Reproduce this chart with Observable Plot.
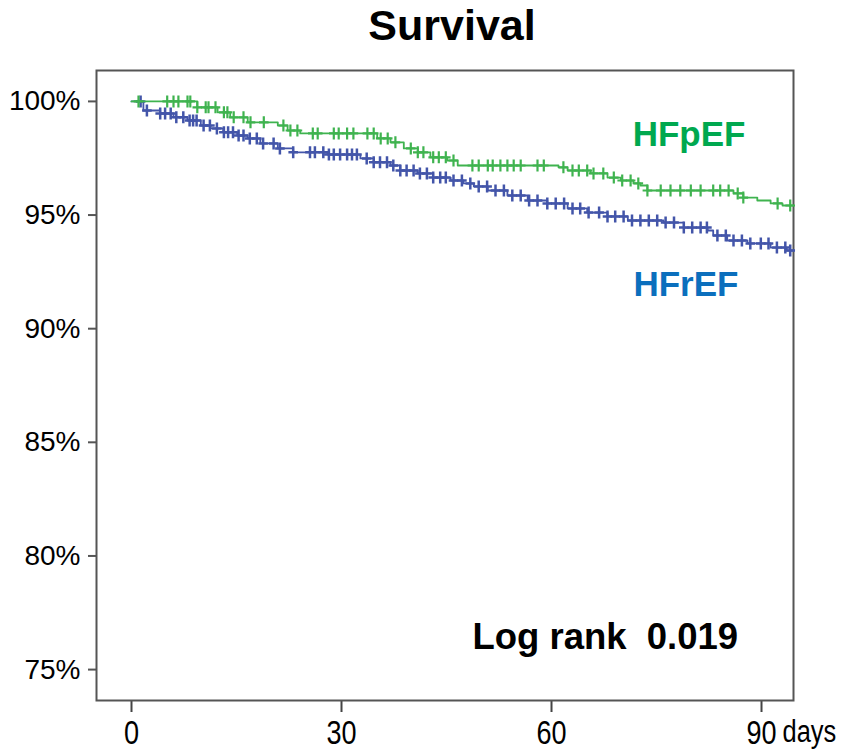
<!DOCTYPE html>
<html>
<head>
<meta charset="utf-8">
<script src="https://cdn.jsdelivr.net/npm/d3@7"></script>
<script src="https://cdn.jsdelivr.net/npm/@observablehq/plot@0.6"></script>
<style>
  body { margin: 0; background: #fff; }
  svg { display: block; }
</style>
</head>
<body>
<div id="chart"></div>
<script>
// ---- data ----
const title = "Survival";
const seriesNames = ["HFpEF", "HFrEF"];
const logRankText = "Log rank\u00a0 0.019";
const xUnit = "days";
const followUpEnd = 94.5;

const hfpefTimes = [0, 9.4, 12.3, 14.1, 16.6, 20.9, 22.3, 24.1, 35.1, 37.0, 38.9, 40.9, 42.7, 45.1, 46.6, 61.0, 62.3, 65.6, 68.0, 69.9, 71.7, 72.7, 73.7, 86.0, 87.4, 89.4, 91.3, 93.0];
const hfpefSurv  = [100, 99.74, 99.52, 99.30, 99.08, 98.94, 98.72, 98.59, 98.37, 98.20, 97.93, 97.76, 97.54, 97.40, 97.18, 97.10, 96.96, 96.83, 96.65, 96.52, 96.39, 96.30, 96.08, 95.95, 95.77, 95.64, 95.51, 95.42];
const hfpefCensor = [1.0, 5.1, 6.0, 6.7, 8.0, 8.4, 9.4, 10.6, 11.0, 12.0, 13.2, 13.7, 14.6, 16.0, 17.0, 18.9, 21.7, 22.7, 23.7, 25.9, 26.6, 28.9, 29.6, 30.8, 31.7, 33.7, 34.6, 35.6, 36.6, 37.7, 39.9, 40.9, 41.7, 43.1, 43.9, 44.9, 46.0, 48.7, 49.6, 50.9, 51.6, 52.7, 53.7, 54.6, 55.6, 58.0, 58.9, 61.7, 63.0, 63.9, 65.1, 66.0, 67.4, 68.9, 70.1, 71.3, 72.4, 73.7, 75.6, 77.0, 78.4, 79.9, 81.3, 83.1, 84.1, 85.3, 86.6, 87.4, 92.3, 94.1];

const hfrefTimes = [0, 1.7, 4.1, 6.0, 8.0, 9.9, 11.3, 13.1, 15.1, 16.6, 18.4, 20.9, 23.1, 28.0, 32.7, 34.6, 37.0, 38.4, 40.9, 43.1, 45.6, 47.4, 48.9, 50.9, 53.7, 56.6, 59.4, 62.3, 65.1, 68.0, 70.9, 76.0, 78.9, 82.3, 83.1, 85.1, 88.0, 91.3, 93.6];
const hfrefSurv  = [100, 99.60, 99.47, 99.30, 99.16, 98.94, 98.81, 98.64, 98.50, 98.37, 98.15, 97.93, 97.76, 97.66, 97.49, 97.32, 97.18, 96.96, 96.83, 96.65, 96.52, 96.39, 96.26, 96.08, 95.86, 95.64, 95.51, 95.29, 95.11, 94.94, 94.76, 94.67, 94.45, 94.32, 94.10, 93.88, 93.75, 93.57, 93.44];
const hfrefCensor = [1.3, 2.2, 4.1, 4.8, 5.6, 6.4, 7.4, 8.3, 8.8, 9.3, 10.3, 11.2, 12.2, 13.2, 13.8, 14.5, 15.3, 16.0, 16.9, 17.9, 18.8, 20.3, 21.2, 23.1, 25.5, 26.2, 27.4, 28.2, 28.9, 29.8, 30.8, 31.5, 32.2, 33.6, 34.6, 35.5, 36.5, 37.4, 38.4, 39.3, 40.3, 41.2, 42.2, 43.1, 44.1, 44.9, 46.0, 47.2, 48.4, 49.6, 50.8, 52.0, 53.2, 54.4, 55.6, 56.8, 58.0, 59.4, 60.6, 61.8, 63.0, 64.1, 65.3, 66.8, 68.0, 69.1, 70.3, 71.5, 72.7, 73.9, 75.1, 76.3, 77.5, 78.9, 80.1, 81.3, 82.2, 83.7, 84.9, 86.0, 87.2, 88.4, 89.9, 91.0, 92.2, 93.4, 94.1];

const yTicks = [75, 80, 85, 90, 95, 100];
const yTickLabels = ["75%", "80%", "85%", "90%", "95%", "100%"];
const xTicks = [0, 30, 60, 90];
const xTickLabels = ["0", "30", "60", "90"];

// ---- build tables ----
function stepRows(times, surv, name) {
  const rows = times.map((t, i) => ({t, s: surv[i], name}));
  rows.push({t: followUpEnd, s: surv[surv.length - 1], name});
  return rows;
}
function censorRows(censor, times, surv, name) {
  return censor.map(t => {
    const i = Math.max(0, d3.bisectRight(times, t) - 1);
    return {t, s: surv[i], name};
  });
}
const pLine = stepRows(hfpefTimes, hfpefSurv, seriesNames[0]);
const rLine = stepRows(hfrefTimes, hfrefSurv, seriesNames[1]);
const pCens = censorRows(hfpefCensor, hfpefTimes, hfpefSurv, seriesNames[0]);
const rCens = censorRows(hfrefCensor, hfrefTimes, hfrefSurv, seriesNames[1]);

const green = "#3fb34f";
const blue = "#4355a9";
const greenLabel = "#00a84f";
const blueLabel = "#0b6fbd";

const plusSymbol = {
  draw(ctx, size) {
    const r = Math.sqrt(size / Math.PI);
    ctx.moveTo(-r * 0.8, 0); ctx.lineTo(r * 0.8, 0);
    ctx.moveTo(0, -r); ctx.lineTo(0, r);
  }
};

const fontMain = "'Liberation Sans', Arial, Helvetica, sans-serif";

const chart = Plot.plot({
  width: 848,
  height: 752,
  marginLeft: 96,
  marginRight: 55,
  marginTop: 70,
  marginBottom: 52,
  style: {fontFamily: fontMain, color: "#000", background: "#fff"},
  x: {domain: [-5, 94.57]},
  y: {domain: [73.64, 101.36]},
  marks: [
    Plot.axisY({ticks: yTicks, tickFormat: d => yTickLabels[yTicks.indexOf(d)], tickSize: 8, tickPadding: 8,
      fontSize: 28, stroke: "#555", strokeWidth: 2, label: null}),
    Plot.axisX({ticks: xTicks, tickFormat: d => xTickLabels[xTicks.indexOf(d)], tickSize: 12, tickPadding: 8,
      fontSize: 33, stroke: "#444", strokeWidth: 2, label: null}),
    Plot.text([xUnit], {x: xTicks[xTicks.length - 1], frameAnchor: "bottom", lineAnchor: "top", textAnchor: "start",
      dx: 21, dy: 19, fontSize: 31, fill: "#000"}),
    Plot.frame({stroke: "#555", strokeWidth: 2}),
    // HFrEF
    Plot.line(rLine, {x: "t", y: "s", curve: "step-after", stroke: blue, strokeWidth: 1.8}),
    Plot.dot(rCens, {x: "t", y: "s", symbol: plusSymbol, r: 6, fill: "none", stroke: blue, strokeWidth: 2.5}),
    // HFpEF
    Plot.line(pLine, {x: "t", y: "s", curve: "step-after", stroke: green, strokeWidth: 1.8}),
    Plot.dot(pCens, {x: "t", y: "s", symbol: plusSymbol, r: 6, fill: "none", stroke: green, strokeWidth: 2.2}),
    // labels
    Plot.text([seriesNames[0]], {x: 71.6, y: 98.02, textAnchor: "start", lineAnchor: "bottom",
      fontSize: 35, fontWeight: "bold", fill: greenLabel}),
    Plot.text([seriesNames[1]], {x: 71.7, y: 91.42, textAnchor: "start", lineAnchor: "bottom",
      fontSize: 35, fontWeight: "bold", fill: blueLabel}),
    Plot.text([logRankText], {x: 48.7, y: 75.92, textAnchor: "start", lineAnchor: "bottom",
      fontSize: 36.5, fontWeight: "bold", fill: "#000"}),
    // title
    Plot.text([title], {frameAnchor: "top", dx: 7, dy: -31, lineAnchor: "bottom",
      fontSize: 43, fontWeight: "bold", fill: "#000"})
  ]
});
document.getElementById("chart").appendChild(chart);

// narrow (condensed) look of the x-axis labels and unit, as in the reference
const narrowTexts = new Set([...xTickLabels, xUnit]);
d3.select(chart).selectAll("text").each(function() {
  if (!narrowTexts.has(this.textContent)) return;
  const w = this.getComputedTextLength();
  this.setAttribute("textLength", (w * 0.82).toFixed(1));
  this.setAttribute("lengthAdjust", "spacingAndGlyphs");
});
</script>
</body>
</html>
